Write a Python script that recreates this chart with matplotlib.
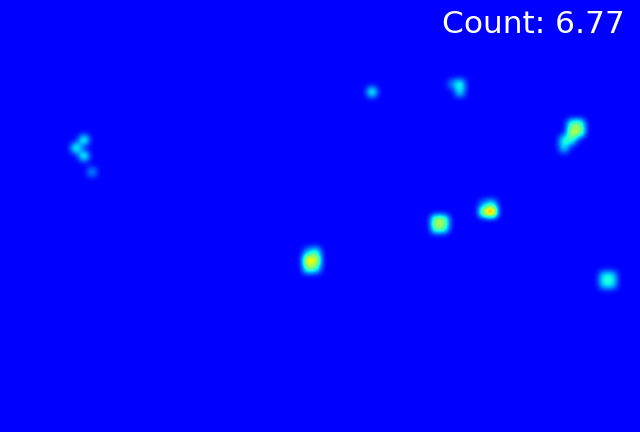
import numpy as np
import matplotlib
matplotlib.use("Agg")
import matplotlib.pyplot as plt
from matplotlib.colors import Normalize

# density map on a coarse 80 x 54 grid (each cell = 8 px)
grid_w, grid_h = 80, 54
cell_size = 8
cell_cols = [71, 72, 71, 72, 70, 70, 71,
             38, 39, 38, 39, 39, 38,
             54, 55, 54, 55,
             61, 60, 61, 60,
             10, 9, 10, 11,
             46, 57, 57, 56,
             75, 76, 75, 76]
cell_rows = [16, 16, 15, 15, 17, 18, 17,
             32, 32, 33, 33, 31, 31,
             27, 27, 28, 28,
             26, 26, 25, 25,
             17, 18, 19, 21,
             11, 10, 11, 10,
             34, 34, 35, 35]
cell_vals = [0.58, 0.52, 0.42, 0.45, 0.36, 0.30, 0.36,
             0.72, 0.62, 0.50, 0.38, 0.36, 0.22,
             0.56, 0.50, 0.50, 0.44,
             0.95, 0.62, 0.32, 0.18,
             0.42, 0.42, 0.42, 0.22,
             0.42, 0.38, 0.32, 0.18,
             0.32, 0.32, 0.32, 0.32]
count = 6.77

density = np.zeros((grid_h, grid_w))
for c, r, v in zip(cell_cols, cell_rows, cell_vals):
    density[r, c] = v

# upsample to pixels and soften like the original resized map
img = np.kron(density, np.ones((cell_size, cell_size)))
k = np.exp(-0.5 * (np.arange(-10, 11) / 3.5) ** 2)
k /= k.sum()
img = np.apply_along_axis(lambda m: np.convolve(m, k, mode="same"), 0, img)
img = np.apply_along_axis(lambda m: np.convolve(m, k, mode="same"), 1, img)

fig = plt.figure(figsize=(6.4, 4.32), dpi=100)
ax = fig.add_axes([0, 0, 1, 1])
ax.imshow(img, cmap="jet", norm=Normalize(vmin=-0.14, vmax=1.0),
          interpolation="nearest", aspect="auto")
ax.axis("off")
ax.text(625 / 640, 1 - 33 / 432, "Count: %.2f" % count, transform=ax.transAxes,
        color="white", fontsize=22.5, ha="right", va="baseline", family="DejaVu Sans")

fig.savefig("out.png", dpi=100)
